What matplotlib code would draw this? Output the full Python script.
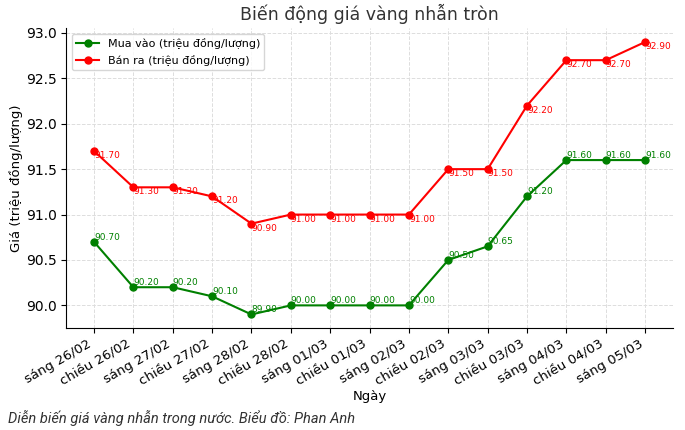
import matplotlib.pyplot as plt

sessions = ['sáng 26/02', 'chiều 26/02', 'sáng 27/02', 'chiều 27/02', 'sáng 28/02',
            'chiều 28/02', 'sáng 01/03', 'chiều 01/03', 'sáng 02/03', 'chiều 02/03',
            'sáng 03/03', 'chiều 03/03', 'sáng 04/03', 'chiều 04/03', 'sáng 05/03']
buy = [90.70, 90.20, 90.20, 90.10, 89.90, 90.00, 90.00, 90.00, 90.00,
       90.50, 90.65, 91.20, 91.60, 91.60, 91.60]
sell = [91.70, 91.30, 91.30, 91.20, 90.90, 91.00, 91.00, 91.00, 91.00,
        91.50, 91.50, 92.20, 92.70, 92.70, 92.90]

fig = plt.figure(figsize=(6.85, 4.3), dpi=100)
ax = fig.add_axes([0.097, 0.237, 0.885, 0.697])

x = range(len(sessions))
ax.plot(x, buy, marker='o', color='green', linewidth=1.5, markersize=5,
        label='Mua vào (triệu đồng/lượng)')
ax.plot(x, sell, marker='o', color='red', linewidth=1.5, markersize=5,
        label='Bán ra (triệu đồng/lượng)')

for i, v in enumerate(buy):
    ax.text(i, v, f'{v:.2f}', color='green', fontsize=6.5, ha='left', va='bottom')
for i, v in enumerate(sell):
    ax.text(i, v, f'{v:.2f}', color='red', fontsize=6.5, ha='left', va='top')

ax.set_xticks(list(x))
ax.set_xticklabels(sessions, rotation=30, ha='right', fontsize=9.5)
ax.tick_params(axis='y', labelsize=10)
ax.set_title('Biến động giá vàng nhẫn tròn', fontsize=12.5, color='#333333')
ax.set_xlabel('Ngày', fontsize=9.5, labelpad=1)
ax.set_ylabel('Giá (triệu đồng/lượng)', fontsize=9.5, labelpad=2)
ax.grid(True, linestyle='--', color='#dddddd', linewidth=0.7)
ax.spines['top'].set_visible(False)
ax.spines['right'].set_visible(False)
ax.legend(loc='upper left', fontsize=8)

fig.text(0.012, 0.028, 'Diễn biến giá vàng nhẫn trong nước. Biểu đồ: Phan Anh',
         family='Roboto', style='italic', fontsize=10.5, color='#333333', va='center')

plt.savefig('out.png', dpi=100)
